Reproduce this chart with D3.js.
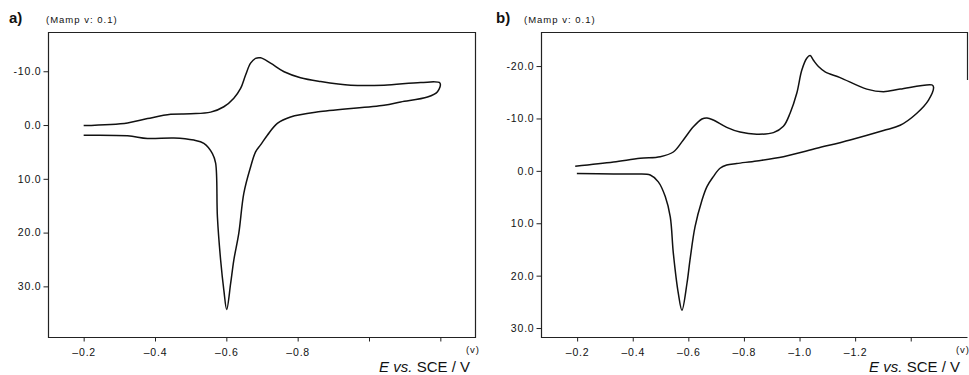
<!doctype html>
<html lang="en">
<head>
<meta charset="utf-8">
<title>Cyclic voltammograms</title>
<script src="https://d3js.org/d3.v7.min.js"></script>
<style>
    body { margin: 0; background: #fff; }
    text { font-family: "Liberation Sans", Arial, sans-serif; fill: #111; }
    .tick-label { font-size: 10.5px; letter-spacing: 0.8px; }
    .unit { font-size: 9.5px; letter-spacing: 1px; }
    .panel-label { font-size: 15px; font-weight: bold; }
    .axis-title { font-size: 15px; }
</style>
</head>
<body>
<svg id="chart" width="969" height="375"></svg>
<script>
// panel a: potential (V) and current, forward sweep then return sweep
const aPotential = [
    -0.200, -0.323, -0.379, -0.444, -0.500, -0.556, -0.593, -0.621, -0.640, -0.654, -0.668,
    -0.682, -0.696, -0.724, -0.762, -0.808, -0.864, -0.949, -1.042, -1.145, -1.199,
    -1.192, -1.164, -1.089, -1.042, -0.864, -0.780, -0.743, -0.715, -0.696, -0.682, -0.668,
    -0.649, -0.635, -0.621, -0.612, -0.601, -0.593, -0.584, -0.575, -0.570, -0.561, -0.537,
    -0.509, -0.453, -0.379, -0.323, -0.200
];
const aCurrent = [
    0.1, -0.4, -1.2, -2.0, -2.1, -2.4, -3.4, -5.0, -6.8, -9.3, -11.5,
    -12.4, -12.5, -11.5, -9.9, -8.8, -8.1, -7.4, -7.4, -7.9, -7.8,
    -6.2, -5.2, -4.3, -3.7, -2.5, -1.5, -0.3, 1.9, 3.7, 5.0, 7.8,
    12.7, 20.1, 25.1, 29.5, 34.3, 30.7, 25.1, 17.1, 7.1, 5.3, 3.4,
    2.8, 2.4, 2.5, 2.0, 1.9
];

// panel b
const bPotential = [
    -0.193, -0.331, -0.427, -0.499, -0.546, -0.582, -0.618, -0.649, -0.667, -0.690, -0.738,
    -0.786, -0.846, -0.906, -0.942, -0.966, -0.990, -1.008, -1.026, -1.038, -1.050, -1.068,
    -1.092, -1.146, -1.242, -1.302, -1.362, -1.476,
    -1.482, -1.464, -1.422, -1.362, -1.302, -1.182, -1.062, -0.942, -0.846, -0.774, -0.738,
    -0.714, -0.690, -0.667, -0.649, -0.624, -0.606, -0.595, -0.577, -0.564, -0.546, -0.535,
    -0.517, -0.492, -0.463, -0.415, -0.331, -0.199
];
const bCurrent = [
    -0.9, -1.7, -2.4, -2.7, -3.6, -5.9, -8.4, -9.9, -10.1, -9.7, -8.3,
    -7.4, -7.0, -7.3, -8.5, -11.0, -14.8, -19.2, -21.5, -22.0, -21.1, -19.9,
    -18.9, -17.8, -15.6, -15.1, -15.6, -16.4,
    -16.0, -13.5, -11.0, -8.7, -7.7, -5.9, -4.3, -2.7, -1.9, -1.4, -1.1,
    -0.5, 1.1, 3.0, 5.6, 10.7, 17.0, 21.5, 26.6, 23.4, 15.7, 8.8,
    4.9, 2.1, 0.8, 0.6, 0.6, 0.5
];

const aXTicks = [-0.2, -0.4, -0.6, -0.8, -1.0, -1.2];
const aXLabels = ["–0.2", "–0.4", "–0.6", "–0.8", "", ""];
const aYTicks = [-10, 0, 10, 20, 30];
const bXTicks = [-0.2, -0.4, -0.6, -0.8, -1.0, -1.2, -1.4];
const bXLabels = ["–0.2", "–0.4", "–0.6", "–0.8", "–1.0", "–1.2", ""];
const bYTicks = [-20, -10, 0, 10, 20, 30];

const svg = d3.select("#chart");

const panels = [
    {
        name: "a)", nameX: 9, unitLeft: 46,
        left: 48, right: 476, top: 32, bottom: 338,
        xDomain: [-0.1, -1.3], yDomain: [-17.3, 39.6],
        potential: aPotential, current: aCurrent,
        xTicks: aXTicks, xLabels: aXLabels, yTicks: aYTicks,
        unitX: 473, titleX: 470, rightFrame: 338
    },
    {
        name: "b)", nameX: 496, unitLeft: 524,
        left: 541, right: 968, top: 32, bottom: 338,
        xDomain: [-0.07, -1.606], yDomain: [-26.5, 31.9],
        potential: bPotential, current: bCurrent,
        xTicks: bXTicks, xLabels: bXLabels, yTicks: bYTicks,
        unitX: 963, titleX: 960, rightFrame: 80
    }
];

panels.forEach(p => {
    const x = d3.scaleLinear().domain(p.xDomain).range([p.left, p.right]);
    const y = d3.scaleLinear().domain(p.yDomain).range([p.top, p.bottom]);
    const g = svg.append("g");

    // frame (right side of b runs off the page)
    const frame = d3.path();
    frame.moveTo(p.right - 0.5, p.top + 0.5);
    frame.lineTo(p.left + 0.5, p.top + 0.5);
    frame.lineTo(p.left + 0.5, p.bottom - 0.5);
    frame.lineTo(p.right - 0.5, p.bottom - 0.5);
    g.append("path").attr("d", frame.toString())
        .attr("fill", "none").attr("stroke", "#222").attr("stroke-width", 1.2);
    g.append("line")
        .attr("x1", p.right - 0.5).attr("x2", p.right - 0.5)
        .attr("y1", p.top).attr("y2", p.rightFrame)
        .attr("stroke", "#222").attr("stroke-width", 1.2);

    // y axis
    const yAxis = d3.axisLeft(y).tickValues(p.yTicks).tickSize(5).tickPadding(2)
        .tickFormat(d => d3.format(".1f")(d).replace("−", "-"));
    const ya = g.append("g").attr("transform", `translate(${p.left + 0.5},0)`).call(yAxis);
    ya.select(".domain").remove();
    ya.selectAll(".tick line").attr("stroke", "#222");
    ya.selectAll(".tick text").attr("class", "tick-label").attr("fill", "#111")
        .style("font-family", "'Liberation Sans', Arial, sans-serif");

    // x axis
    const xAxis = d3.axisBottom(x).tickValues(p.xTicks).tickSize(4).tickPadding(7)
        .tickFormat((d, i) => p.xLabels[i]);
    const xa = g.append("g").attr("transform", `translate(0,${p.bottom - 0.5})`).call(xAxis);
    xa.select(".domain").remove();
    xa.selectAll(".tick line").attr("stroke", "#222");
    xa.selectAll(".tick text").attr("class", "tick-label").attr("fill", "#111")
        .style("font-family", "'Liberation Sans', Arial, sans-serif");

    // curve
    const pts = p.potential.map((v, i) => [v, p.current[i]]);
    const line = d3.line()
        .x(d => x(d[0]))
        .y(d => y(d[1]))
        .curve(d3.curveCatmullRom.alpha(0.5));
    g.append("path").datum(pts)
        .attr("d", line)
        .attr("fill", "none")
        .attr("stroke", "#111")
        .attr("stroke-width", 1.5)
        .attr("stroke-linejoin", "round");

    // labels
    g.append("text").attr("class", "panel-label").attr("x", p.nameX).attr("y", 23).text(p.name);
    g.append("text").attr("class", "unit").attr("x", p.unitLeft).attr("y", 23).text("(Mamp v:  0.1)");
    g.append("text").attr("class", "unit").attr("x", p.unitX).attr("y", 353)
        .attr("text-anchor", "middle").text("(v)");

    const title = g.append("text").attr("class", "axis-title")
        .attr("x", p.titleX).attr("y", 372).attr("text-anchor", "end");
    title.append("tspan").attr("font-style", "italic").text("E");
    title.append("tspan").text(" ");
    title.append("tspan").attr("font-style", "italic").text("vs.");
    title.append("tspan").text(" SCE / V");
});
</script>
</body>
</html>
